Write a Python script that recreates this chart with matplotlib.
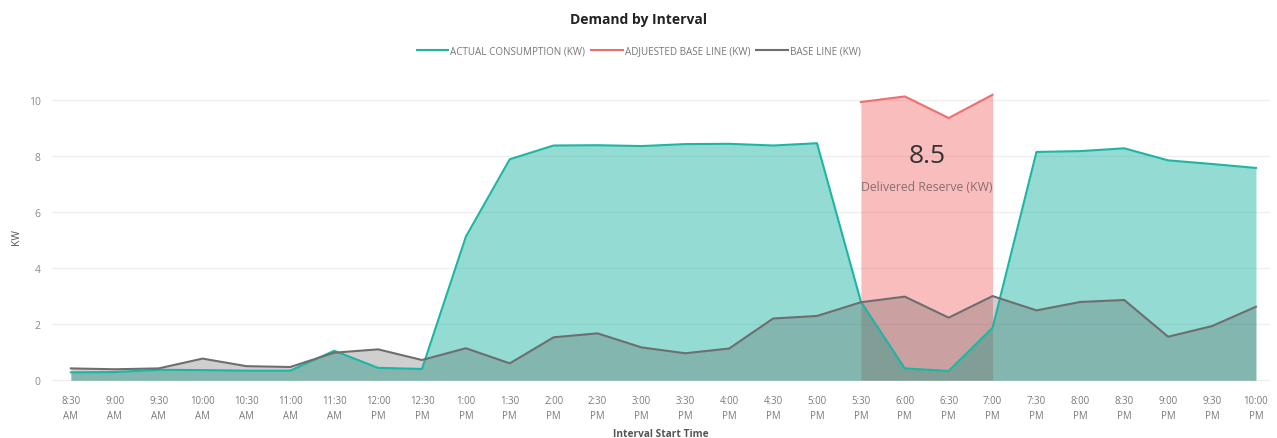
import numpy as np
import matplotlib.pyplot as plt

plt.rcParams['font.family'] = ['Open Sans', 'DejaVu Sans']

# half-hour interval start times
times = ["8:30\nAM", "9:00\nAM", "9:30\nAM", "10:00\nAM", "10:30\nAM", "11:00\nAM",
         "11:30\nAM", "12:00\nPM", "12:30\nPM", "1:00\nPM", "1:30\nPM", "2:00\nPM",
         "2:30\nPM", "3:00\nPM", "3:30\nPM", "4:00\nPM", "4:30\nPM", "5:00\nPM",
         "5:30\nPM", "6:00\nPM", "6:30\nPM", "7:00\nPM", "7:30\nPM", "8:00\nPM",
         "8:30\nPM", "9:00\nPM", "9:30\nPM", "10:00\nPM"]

actual = [0.28, 0.29, 0.37, 0.36, 0.34, 0.34, 1.05, 0.44, 0.40, 5.12, 7.88, 8.37,
          8.38, 8.35, 8.42, 8.43, 8.37, 8.45, 2.80, 0.42, 0.33, 1.87, 8.14, 8.17,
          8.27, 7.84, 7.71, 7.57]

base = [0.42, 0.39, 0.42, 0.77, 0.50, 0.47, 0.98, 1.10, 0.72, 1.14, 0.60, 1.53,
        1.67, 1.17, 0.96, 1.13, 2.20, 2.29, 2.78, 2.98, 2.23, 3.00, 2.49, 2.79,
        2.86, 1.55, 1.93, 2.62]

# adjusted base line only exists during the event window (5:30 - 7:00 PM)
adjusted = [None] * 18 + [9.92, 10.12, 9.35, 10.18] + [None] * 6

delivered = 8.5

x = np.arange(len(times))
actual = np.array(actual)
base = np.array(base)
adjusted = np.array(adjusted, dtype=float)

TEAL = '#1DB5A3'
RED = '#EE6E6E'
GRAY = '#6E6E6E'

fig = plt.figure(figsize=(12.77, 4.39), dpi=100)
ax = fig.add_axes([0.0407, 0.1253, 0.9538, 0.670])

# filled areas
ax.fill_between(x, 0, adjusted, color='#F47C7C', alpha=0.5, linewidth=0)
ax.fill_between(x, 0, actual, color=TEAL, alpha=0.47, linewidth=0)
ax.fill_between(x, 0, base, color='#555555', alpha=0.28, linewidth=0)

# lines
ax.plot(x, actual, color=TEAL, lw=1.5, label='ACTUAL CONSUMPTION (KW)')
ax.plot(x, adjusted, color=RED, lw=1.5, label='ADJUESTED BASE LINE (KW)')
ax.plot(x, base, color=GRAY, lw=1.5, label='BASE LINE (KW)')

# delivered reserve callout in the middle of the event window
mid = x[~np.isnan(adjusted)].mean()
ax.text(mid, 8.0, f'{delivered}', ha='center', va='center', fontsize=19, color='#333333')
ax.text(mid, 6.9, 'Delivered Reserve (KW)', ha='center', va='center', fontsize=8.8, color='#8a6f6f')

ax.set_xlim(-0.43, len(times) - 1 + 0.32)
ax.set_ylim(-0.1, 10.39)
ax.set_yticks([0, 2, 4, 6, 8, 10])
ax.set_xticks(x)
ax.set_xticklabels(times, fontsize=6.9, color='#7a7a7a', linespacing=1.4)
ax.tick_params(axis='y', labelsize=7.5, labelcolor='#8a8a8a', length=0, pad=8)
ax.tick_params(axis='x', length=0, pad=9)
ax.grid(axis='y', color='#ededed', lw=0.9)
ax.set_axisbelow(True)
for s in ax.spines.values():
    s.set_visible(False)

ax.set_ylabel('KW', fontsize=7.5, color='#555555', labelpad=5)
ax.set_xlabel('Interval Start Time', fontsize=7.3, color='#555555', fontweight='bold', labelpad=5)

fig.text(0.5, 1 - 20 / 439, 'Demand by Interval', ha='center', va='center',
         fontsize=10, fontweight='bold', color='#222222')
fig.legend(loc='center', bbox_to_anchor=(0.5, 1 - 52 / 439), ncol=3, frameon=False,
           fontsize=7.1, labelcolor='#777777', handlelength=3.2, handletextpad=0.2,
           columnspacing=0.6)

fig.savefig('out.png', dpi=100)
